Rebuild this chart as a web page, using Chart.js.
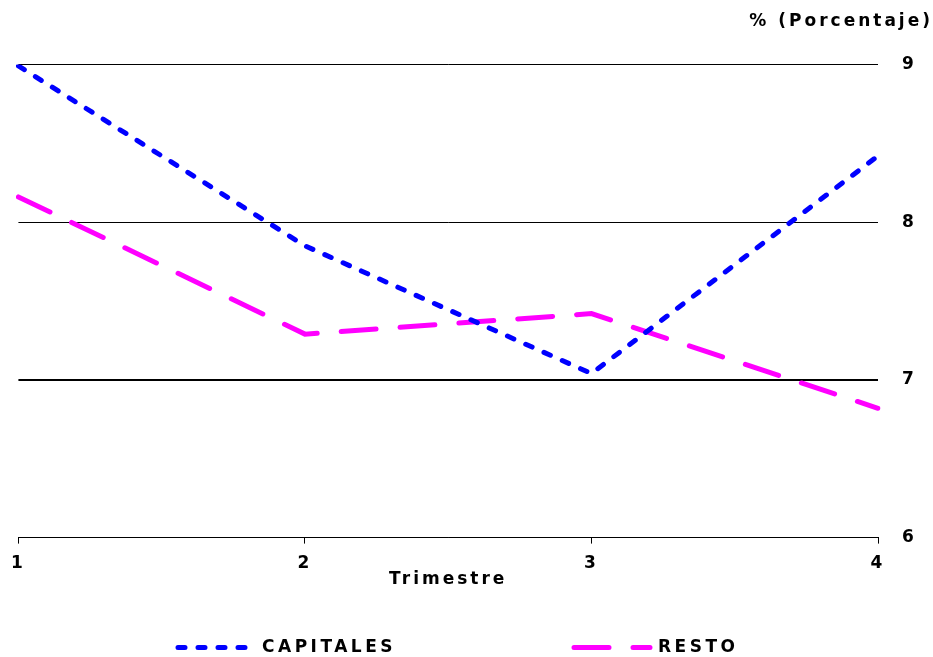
<!DOCTYPE html>
<html>
<head>
<meta charset="utf-8">
<title>Trimestre</title>
<script src="https://cdn.jsdelivr.net/npm/chart.js@4.4.1/dist/chart.umd.min.js"></script>
<style>
  html, body { margin: 0; padding: 0; background: #fff; }
</style>
</head>
<body>
<canvas id="chart" width="933" height="657"></canvas>
<script>
// values
const trimestres = ['1', '2', '3', '4'];
const capitales = [8.99, 7.85, 7.04, 8.42];
const resto = [8.16, 7.29, 7.42, 6.82];
const yTicks = [6, 7, 8, 9];

const FONT = '"DejaVu Sans", "Liberation Sans", Arial, sans-serif';
const SPACING = '3px';

// the original text is widely spaced, canvas letterSpacing gets reset on resize so set it every pass
const spacing = {
    id: 'spacing',
    beforeUpdate(chart) { chart.ctx.letterSpacing = SPACING; },
    beforeLayout(chart) { chart.ctx.letterSpacing = SPACING; },
    beforeDraw(chart) { chart.ctx.letterSpacing = SPACING; }
};

// legend drawn by hand, the items sit far apart
const legendX = [176, 572];
const bottomLegend = {
    id: 'bottomLegend',
    afterDraw(chart) {
        const ctx = chart.ctx;
        const y = 647.5;
        chart.data.datasets.forEach((ds, i) => {
            const x0 = legendX[i];
            ctx.save();
            ctx.strokeStyle = ds.borderColor;
            ctx.lineWidth = ds.borderWidth;
            ctx.lineCap = ds.borderCapStyle;
            ctx.setLineDash(ds.borderDash);
            ctx.beginPath();
            ctx.moveTo(x0 + 2, y);
            ctx.lineTo(x0 + 78, y);
            ctx.stroke();
            ctx.setLineDash([]);
            ctx.letterSpacing = '3.5px';
            ctx.fillStyle = '#000';
            ctx.font = 'bold 17px ' + FONT;
            ctx.textBaseline = 'middle';
            ctx.textAlign = 'left';
            ctx.fillText(ds.label, x0 + 86, y);
            ctx.restore();
        });
    }
};

const ctx = document.getElementById('chart').getContext('2d');

new Chart(ctx, {
    type: 'line',
    data: {
        labels: trimestres,
        datasets: [
            {
                label: 'CAPITALES',
                data: capitales,
                borderColor: '#0000ff',
                borderWidth: 5,
                borderDash: [7, 13],
                borderCapStyle: 'round',
                pointRadius: 0,
                tension: 0
            },
            {
                label: 'RESTO',
                data: resto,
                borderColor: '#ff00ff',
                borderWidth: 5,
                borderDash: [35, 24],
                borderCapStyle: 'round',
                pointRadius: 0,
                tension: 0
            }
        ]
    },
    options: {
        responsive: false,
        animation: false,
        layout: { padding: { left: 18, right: 0, top: 0, bottom: 67 } },
        plugins: {
            legend: { display: false },
            tooltip: { enabled: false },
            title: {
                display: true,
                text: '% (Porcentaje)',
                align: 'end',
                color: '#000',
                font: { family: FONT, size: 17, weight: 'bold', lineHeight: 1.2 },
                padding: { top: 11, bottom: 33 }
            }
        },
        scales: {
            x: {
                offset: false,
                grid: {
                    drawOnChartArea: false,
                    drawTicks: true,
                    tickLength: 6,
                    color: '#000',
                    lineWidth: 1
                },
                border: { display: true, color: '#000', width: 1 },
                ticks: {
                    color: '#000',
                    padding: 11,
                    maxRotation: 0,
                    font: { family: FONT, size: 17, weight: 'bold', lineHeight: 1 }
                },
                title: {
                    display: true,
                    text: 'Trimestre',
                    color: '#000',
                    font: { family: FONT, size: 17, weight: 'bold', lineHeight: 1.2 },
                    padding: { top: -13, bottom: 0 }
                }
            },
            y: {
                position: 'right',
                min: 6,
                max: 9,
                afterBuildTicks(scale) {
                    scale.ticks = yTicks.map(v => ({ value: v }));
                },
                afterFit(scale) { scale.width = 55; },
                grid: {
                    drawTicks: false,
                    color: '#000',
                    lineWidth: c => (c.tick && c.tick.value === 7 ? 2 : 1)
                },
                border: { display: false },
                ticks: {
                    color: '#000',
                    padding: 24,
                    font: { family: FONT, size: 17, weight: 'bold' }
                }
            }
        }
    },
    plugins: [spacing, bottomLegend]
});
</script>
</body>
</html>
